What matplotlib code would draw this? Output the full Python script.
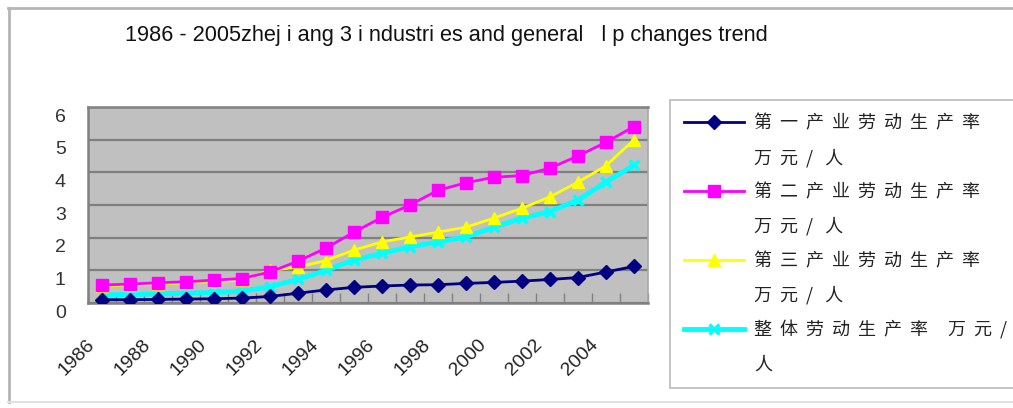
import matplotlib
matplotlib.use('Agg')
import matplotlib.pyplot as plt
from matplotlib.lines import Line2D
import matplotlib.transforms as mtransforms
import numpy as np

# ---------------- data ----------------
years = list(range(1986, 2006))
primary = [0.10, 0.10, 0.11, 0.12, 0.13, 0.15, 0.20, 0.30, 0.40, 0.48,
           0.52, 0.55, 0.56, 0.60, 0.63, 0.67, 0.72, 0.78, 0.95, 1.12]
secondary = [0.55, 0.58, 0.62, 0.65, 0.70, 0.75, 0.95, 1.28, 1.68, 2.17,
             2.62, 3.00, 3.45, 3.68, 3.85, 3.90, 4.13, 4.50, 4.92, 5.40]
tertiary = [0.52, 0.55, 0.58, 0.62, 0.66, 0.70, 1.00, 1.10, 1.30, 1.62,
            1.87, 2.02, 2.17, 2.32, 2.60, 2.90, 3.25, 3.70, 4.20, 5.00]
overall = [0.25, 0.26, 0.28, 0.30, 0.32, 0.36, 0.50, 0.72, 1.00, 1.32,
           1.52, 1.72, 1.87, 2.02, 2.32, 2.60, 2.80, 3.15, 3.70, 4.22]

series_names = [("第一产业劳动生产率", "万元/ 人"),
                ("第二产业劳动生产率", "万元/ 人"),
                ("第三产业劳动生产率", "万元/ 人"),
                ("整体劳动生产率 万元/", "人")]
x_tick_years = [1986, 1988, 1990, 1992, 1994, 1996, 1998, 2000, 2002, 2004]
y_ticks = [0, 1, 2, 3, 4, 5, 6]
title = "1986 - 2005zhej i ang 3 i ndustri es and general   l p changes trend"

# ---------------- figure ----------------
W, H = 1013, 408
fig = plt.figure(figsize=(W / 100, H / 100), dpi=100)
fig.patch.set_facecolor('white')

ax = fig.add_axes([88 / W, 1 - 303 / H, 560 / W, 196 / H])
ax.set_facecolor('#C0C0C0')

x = np.arange(len(years))
styles = [
    dict(color='#000080', marker='D', markersize=7, lw=2, zorder=6),
    dict(color='#FF00FF', marker='s', markersize=9, lw=2, zorder=5),
    dict(color='#FFFF00', marker='^', markersize=9, lw=2, zorder=4),
    dict(color='#00FFFF', marker='x', markersize=7, mew=2.5, lw=3.5, zorder=3),
]
handles = []
for vals, st in zip([primary, secondary, tertiary, overall], styles):
    ln, = ax.plot(x, vals, **st)
    handles.append(ln)

ax.set_xlim(-0.5, len(years) - 0.5)
ax.set_ylim(0, 6)

# grid
ax.set_yticks(y_ticks)
ax.yaxis.grid(True, color='#808080', lw=1.6)
ax.set_axisbelow(True)
for s in ['left', 'bottom', 'top']:
    ax.spines[s].set_color('#808080')
    ax.spines[s].set_linewidth(1.8)
ax.spines['right'].set_color('#A8A8A8')
ax.spines['right'].set_linewidth(1.2)

# y tick labels
ax.set_yticklabels([str(v) for v in y_ticks], fontsize=14,
                   family='Liberation Sans', color='#333333')
ax.tick_params(axis='y', length=0, pad=16)
yoff = mtransforms.ScaledTranslation(0, -8 / 100, fig.dpi_scale_trans)
for lab in ax.get_yticklabels():
    lab.set_transform(lab.get_transform() + yoff)

# x ticks
xt = [years.index(y) for y in x_tick_years]
ax.set_xticks(xt)
ax.set_xticks(np.arange(-0.5, len(years), 1), minor=True)
ax.set_xticklabels([str(y) for y in x_tick_years], fontsize=14,
                   family='Liberation Sans', color='#222222')
ax.tick_params(axis='x', which='major', length=0, pad=0)
ax.tick_params(axis='x', which='minor', direction='in', length=7,
               color='#808080', width=1)
xoff = mtransforms.ScaledTranslation(-16 / 100, -33 / 100, fig.dpi_scale_trans)
for lab in ax.get_xticklabels():
    lab.set_rotation(45)
    lab.set_ha('right')
    lab.set_va('top')
    lab.set_rotation_mode('anchor')
    lab.set_transform(lab.get_transform() + xoff)

# legend (each label on two rows)
def spaced(s):
    return "  ".join(list(s)).replace("/    ", "/  ")

leg_handles = []
leg_labels = []
for h, (l1, l2) in zip(handles, series_names):
    leg_handles.append(Line2D([], [], color=h.get_color(), marker=h.get_marker(),
                              markersize=h.get_markersize(), lw=h.get_linewidth(),
                              mew=h.get_markeredgewidth()))
    leg_labels.append(spaced(l1))
    leg_handles.append(Line2D([], [], linestyle='none', marker=None))
    leg_labels.append(spaced(l2))

leg = fig.legend(leg_handles, leg_labels, loc='upper left',
                 bbox_to_anchor=(670 / W, 1 - 100 / H), bbox_transform=fig.transFigure,
                 prop={'family': ['Noto Sans CJK SC', 'DejaVu Sans'], 'size': 13},
                 frameon=True, fancybox=False, edgecolor='#A8A8A8',
                 handlelength=3.3, handletextpad=0.55, labelspacing=0.89,
                 borderpad=0.8, borderaxespad=0)
leg.get_frame().set_linewidth(1.2)
for t in leg.get_texts():
    t.set_color('#222222')

# title
fig.text(125 / W, 1 - 35 / H, title, fontsize=15.7, family='Liberation Sans',
         ha='left', va='center', color='#111111')

# chart-area border
fig.add_artist(Line2D([8 / W, 1], [1 - 8 / H, 1 - 8 / H], transform=fig.transFigure,
                      color='#B4B4B4', lw=2))
fig.add_artist(Line2D([9 / W, 9 / W], [1 - 8 / H, 1 - 402 / H], transform=fig.transFigure,
                      color='#B4B4B4', lw=2))
fig.add_artist(Line2D([8 / W, 1], [1 - 402 / H, 1 - 402 / H], transform=fig.transFigure,
                      color='#E0E0E0', lw=1.5))

fig.savefig('out.png', dpi=100)
